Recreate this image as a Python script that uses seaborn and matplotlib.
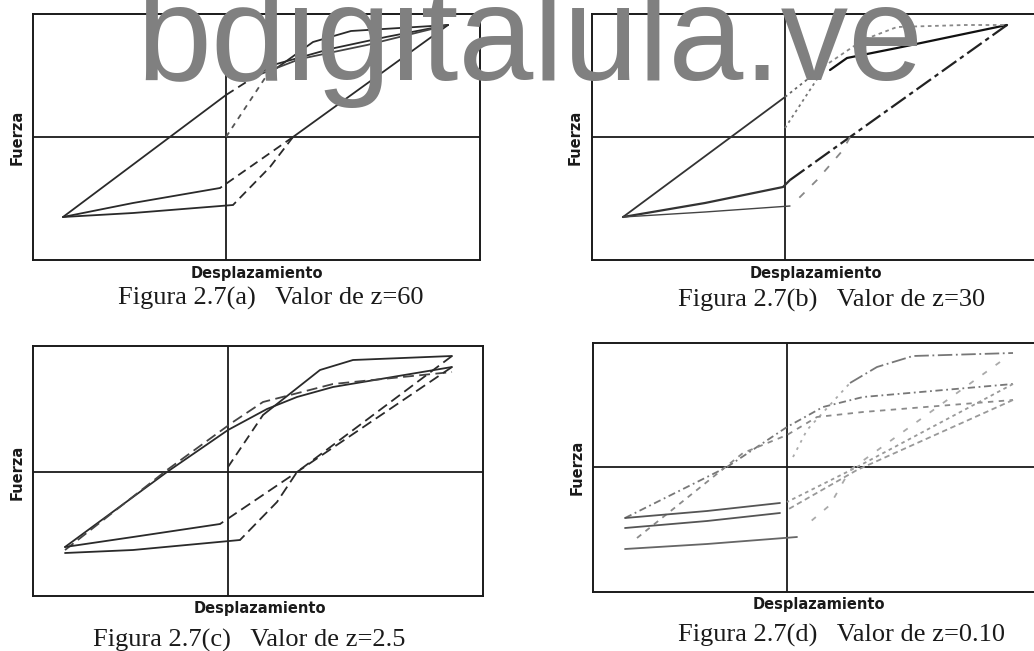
import pandas as pd
import matplotlib
matplotlib.use('Agg')
import matplotlib.pyplot as plt
import seaborn as sns

# Valores: (desplazamiento, fuerza) en unidades del dibujo
# origen = cruce de los ejes

# Figura 2.7(a)  z=60
a_sube_elastica = [(-163, -80), (0, 42)]
a_sube_elastica_2 = [(0, 42), (47, 72)]
a_sube_media = [(47, 72), (104, 88), (160, 100), (222, 112)]
a_sube_origen = [(0, 0), (41, 62)]
a_sube_superior = [(41, 62), (87, 95), (125, 106), (222, 112)]
a_sube_inferior = [(27, 60), (74, 78), (141, 92), (222, 112)]
a_baja_elastica = [(222, 112), (67, 0)]
a_baja_elastica_2 = [(67, 0), (-6, -51)]
a_baja_media = [(-6, -51), (-93, -66), (-163, -80)]
a_baja_origen = [(67, 0), (44, -30), (7, -68)]
a_baja_inferior = [(7, -68), (-93, -76), (-163, -80)]

# Figura 2.7(b)  z=30
b_sube_elastica = [(-162, -80), (0, 40)]
b_sube_elastica_2 = [(0, 40), (38, 70)]
b_sube_media = [(45, 67), (62, 79), (112, 89), (222, 112)]
b_sube_origen = [(0, 9), (38, 67)]
b_sube_superior = [(38, 70), (78, 97), (112, 110), (180, 112), (222, 112)]
b_baja_elastica = [(222, 112), (65, 0), (5, -43)]
b_baja_media = [(5, -43), (-2, -50), (-80, -66), (-162, -80)]
b_baja_origen = [(65, 0), (58, -13), (32, -43), (12, -63)]
b_baja_inferior = [(5, -69), (-80, -75), (-162, -80)]

# Figura 2.7(c)  z=2.5
c_sube_elastica = [(-163, -75), (-61, 0), (0, 42), (39, 63), (69, 75), (105, 85), (224, 105)]
c_sube_elastica_2 = [(-163, -78), (-61, 2), (5, 50), (35, 70), (105, 88), (224, 100)]
c_sube_origen = [(0, 5), (35, 57)]
c_sube_superior = [(35, 57), (92, 102), (125, 112), (224, 116)]
c_baja_elastica = [(224, 105), (69, 0), (-8, -52)]
c_baja_media = [(-8, -52), (-95, -65), (-163, -75)]
c_baja_origen = [(224, 116), (69, 0), (49, -30), (12, -68)]
c_baja_inferior = [(12, -68), (-95, -78), (-163, -81)]

# Figura 2.7(d)  z=0.10
d_sube_origen = [(6, 10), (20, 37), (63, 84)]
d_sube_superior = [(63, 84), (90, 100), (126, 111), (226, 114)]
d_sube_media = [(-162, -51), (-60, 0), (0, 40), (36, 60), (76, 70), (226, 83)]
d_sube_inferior = [(-150, -71), (-44, 14), (0, 32), (30, 50), (76, 55), (226, 67)]
d_baja_media = [(226, 83), (70, 0), (0, -35)]
d_baja_media_2 = [(-7, -36), (-80, -44), (-162, -51)]
d_baja_inferior = [(226, 67), (70, -3), (0, -43)]
d_baja_inferior_2 = [(-7, -46), (-80, -54), (-162, -61)]
d_baja_superior = [(213, 105), (63, -3), (43, -38), (23, -55)]
d_baja_superior_2 = [(10, -70), (-80, -77), (-162, -82)]

W, H = 1034, 651
sns.set_theme(style='white')
fig = plt.figure(figsize=(W / 100, H / 100), dpi=100)


def rect_px(left, top, width, height):
    return [left / W, 1 - (top + height) / H, width / W, height / H]


def panel(left, top, width, height, x0, y0):
    ax = fig.add_axes(rect_px(left, top, width, height))
    ax.set_xlim(left - x0, left + width - x0)
    ax.set_ylim(y0 - (top + height), y0 - top)
    ax.axhline(0, color='#1a1a1a', lw=1.3, zorder=1)
    ax.axvline(0, color='#1a1a1a', lw=1.3, zorder=1)
    ax.set_xticks([])
    ax.set_yticks([])
    for s in ax.spines.values():
        s.set_color('#1a1a1a')
        s.set_linewidth(1.4)
    return ax


def trazar(ax, puntos, ls='-', color='#2a2a2a', lw=1.3):
    df = pd.DataFrame(puntos, columns=['desp', 'fuerza'])
    sns.lineplot(data=df, x='desp', y='fuerza', sort=False, estimator=None,
                 ax=ax, color=color, linestyle=ls, linewidth=lw)
    ax.set_xlabel('')
    ax.set_ylabel('')


# (a)
ax = panel(33, 14, 447, 246, 226, 137)
trazar(ax, a_sube_elastica)
trazar(ax, a_sube_elastica_2, ls=(0, (5, 3)))
trazar(ax, a_sube_media)
trazar(ax, a_sube_origen, ls=(0, (3, 3)), color='#555555')
trazar(ax, a_sube_superior)
trazar(ax, a_sube_inferior, color='#444444')
trazar(ax, a_baja_elastica)
trazar(ax, a_baja_elastica_2, ls=(0, (5, 3)))
trazar(ax, a_baja_media)
trazar(ax, a_baja_origen, ls=(0, (5, 3)))
trazar(ax, a_baja_inferior)

# (b)
ax = panel(592, 14, 447, 246, 785, 137)
trazar(ax, b_sube_elastica, color='#333333')
trazar(ax, b_sube_elastica_2, ls=(0, (1.5, 2)), color='#666666')
trazar(ax, b_sube_media, color='#111111', lw=1.6)
trazar(ax, b_sube_origen, ls=(0, (1.5, 2)), color='#777777')
trazar(ax, b_sube_superior, ls=(0, (2, 2)), color='#888888')
trazar(ax, b_baja_elastica, ls=(0, (8, 2, 2, 2)), color='#222222', lw=1.6)
trazar(ax, b_baja_media, color='#333333', lw=1.6)
trazar(ax, b_baja_origen, ls=(0, (4, 6)), color='#888888')
trazar(ax, b_baja_inferior, color='#444444', lw=1.0)

# (c)
ax = panel(33, 346, 450, 250, 228, 472)
trazar(ax, c_sube_elastica)
trazar(ax, c_sube_elastica_2, ls=(0, (6, 3)), color='#444444')
trazar(ax, c_sube_origen, ls=(0, (5, 3)))
trazar(ax, c_sube_superior)
trazar(ax, c_baja_elastica, ls=(0, (6, 3)))
trazar(ax, c_baja_media)
trazar(ax, c_baja_origen, ls=(0, (6, 3)))
trazar(ax, c_baja_inferior)

# (d)
ax = panel(593, 343, 447, 249, 787, 467)
trazar(ax, d_sube_origen, ls=(0, (1.5, 3)), color='#aaaaaa')
trazar(ax, d_sube_superior, ls=(0, (8, 2, 1, 2)), color='#777777')
trazar(ax, d_sube_media, ls=(0, (4, 2, 1, 2)), color='#777777')
trazar(ax, d_sube_inferior, ls=(0, (3, 3)), color='#8a8a8a')
trazar(ax, d_baja_media, ls=(0, (2, 2)), color='#999999')
trazar(ax, d_baja_media_2, color='#555555')
trazar(ax, d_baja_inferior, ls=(0, (3, 2)), color='#999999')
trazar(ax, d_baja_inferior_2, color='#555555')
trazar(ax, d_baja_superior, ls=(0, (3, 6)), color='#aaaaaa')
trazar(ax, d_baja_superior_2, color='#666666')

# textos
etiqueta = dict(fontsize=10.5, fontweight='bold', color='#1a1a1a', family='DejaVu Sans')
ejes_txt = [(257, 273, 17, 137), (816, 273, 575, 137), (260, 608, 17, 472), (819, 605, 577, 467)]
for xd, yd, xf, yf in ejes_txt:
    fig.text(xd / W, 1 - yd / H, 'Desplazamiento', ha='center', va='center', **etiqueta)
    fig.text(xf / W, 1 - yf / H, 'Fuerza', ha='center', va='center', rotation=90, **etiqueta)

titulos = ['Figura 2.7(a)   Valor de z=60', 'Figura 2.7(b)   Valor de z=30',
           'Figura 2.7(c)   Valor de z=2.5', 'Figura 2.7(d)   Valor de z=0.10']
pos_titulos = [(271, 298), (832, 300), (249, 640), (841, 635)]
for t, (xt, yt) in zip(titulos, pos_titulos):
    fig.text(xt / W, 1 - yt / H, t, ha='center', va='center', fontsize=19,
             family='Liberation Serif', color='#1a1a1a')

# marca de agua
fig.text(136 / W, 1 - 80 / H, 'bdigitalula.ve', ha='left', va='baseline',
         fontsize=97, family='Liberation Sans', color='#808080', zorder=10)

fig.savefig('out.png', dpi=100, facecolor='white')
